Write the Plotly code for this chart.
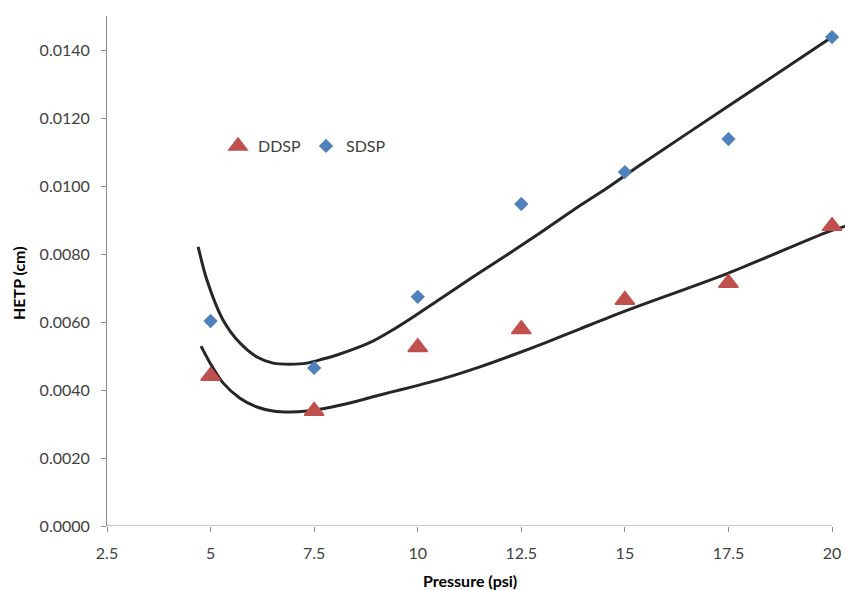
import plotly.graph_objects as go

pressure = [5, 7.5, 10, 12.5, 15, 17.5, 20]
ddsp = [0.00441, 0.00338, 0.00526, 0.00579, 0.00665, 0.00715, 0.00882]
sdsp = [0.00603, 0.00465, 0.00674, 0.00947, 0.01041, 0.01138, 0.01438]

# fitted curves
sdsp_fit_x = [4.70, 4.91, 5.30, 5.71, 6.12, 6.51, 6.92, 7.33, 7.71, 8.12, 8.53, 8.92, 9.33,
              9.89, 10.54, 11.33, 12.15, 12.95, 13.75, 14.57, 15.37, 17.5, 20.0]
sdsp_fit_y = [0.00821, 0.00724, 0.00606, 0.00538, 0.00497, 0.00479, 0.00476, 0.00479, 0.00491,
              0.00506, 0.00524, 0.00544, 0.00572, 0.00615, 0.00668, 0.00732, 0.00797, 0.00862,
              0.00929, 0.00994, 0.01062, 0.01235, 0.01438]
ddsp_fit_x = [4.77, 4.99, 5.30, 5.71, 6.12, 6.51, 6.92, 7.33, 7.71, 8.12, 8.53, 8.92, 9.33,
              9.89, 10.71, 11.50, 12.30, 13.12, 13.92, 15.0, 17.5, 19.9, 20.4]
ddsp_fit_y = [0.00529, 0.00479, 0.00421, 0.00376, 0.00350, 0.00338, 0.00335, 0.00338, 0.00345,
              0.00355, 0.00367, 0.00380, 0.00393, 0.00410, 0.00437, 0.00468, 0.00503, 0.00541,
              0.00580, 0.00632, 0.00744, 0.00865, 0.00885]

x_ticks = [2.5, 5, 7.5, 10, 12.5, 15, 17.5, 20]
x_tick_labels = ["2.5", "5", "7.5", "10", "12.5", "15", "17.5", "20"]
y_ticks = [0, 0.002, 0.004, 0.006, 0.008, 0.010, 0.012, 0.014]

FONT = "Lato, Carlito, Liberation Sans, sans-serif"
TXT = "#404040"
AX = "#8c8c8c"
FS = 16

fig = go.Figure()
fig.add_trace(go.Scatter(x=sdsp_fit_x, y=sdsp_fit_y, mode="lines",
                         line=dict(color="#262626", width=3, shape="spline", smoothing=0.8),
                         showlegend=False, hoverinfo="skip"))
fig.add_trace(go.Scatter(x=ddsp_fit_x, y=ddsp_fit_y, mode="lines",
                         line=dict(color="#262626", width=3, shape="spline", smoothing=0.8),
                         showlegend=False, hoverinfo="skip"))
fig.add_trace(go.Scatter(x=pressure, y=ddsp, mode="markers", name="DDSP",
                         marker=dict(symbol="triangle-up", size=17, color="#C0504D",
                                     line=dict(color="#C0504D", width=1.5))))
fig.add_trace(go.Scatter(x=pressure, y=sdsp, mode="markers", name="SDSP",
                         marker=dict(symbol="diamond", size=11, color="#4F81BD")))

fig.add_shape(type="line", xref="x", yref="y", x0=2.5, x1=20, y0=0, y1=0,
              line=dict(color=AX, width=1))

fig.update_layout(
    width=845, height=590,
    margin=dict(l=107, r=0, t=16, b=64, autoexpand=False),
    paper_bgcolor="white", plot_bgcolor="white",
    font=dict(family=FONT, size=FS, color=TXT),
    legend=dict(orientation="h", x=(218 - 107) / 738, y=(526 - 146) / 510,
                xanchor="left", yanchor="middle",
                bgcolor="rgba(0,0,0,0)", font=dict(size=FS, color=TXT),
                itemwidth=30, tracegroupgap=0),
    xaxis=dict(range=[2.5, 20.313], tickvals=x_ticks, ticktext=x_tick_labels,
               showgrid=False, zeroline=False, showline=False, automargin=False,
               ticks="outside", ticklen=5, tickcolor=AX, ticklabelstandoff=8,
               tickfont=dict(size=FS, color=TXT)),
    yaxis=dict(range=[0, 0.015], tickvals=y_ticks, tickformat=".4f",
               showgrid=False, zeroline=False, showline=True, linecolor=AX, linewidth=1,
               automargin=False,
               ticks="outside", ticklen=5, tickcolor=AX, ticklabelstandoff=8,
               tickfont=dict(size=FS, color=TXT)),
    annotations=[
        dict(text="<b>Pressure (psi)</b>", xref="paper", yref="paper",
             x=(470 - 107) / 738, y=-(580 - 526) / 510, xanchor="center", yanchor="middle",
             showarrow=False, font=dict(size=FS, color="#000000")),
        dict(text="<b>HETP (cm)</b>", xref="paper", yref="paper",
             x=-(107 - 18) / 738, y=(526 - 283) / 510, xanchor="center", yanchor="middle",
             textangle=-90, showarrow=False, font=dict(size=FS, color="#000000")),
    ],
)

fig.write_html("out.html", config={"displayModeBar": False},
               post_script="document.body.style.margin='0px';")
